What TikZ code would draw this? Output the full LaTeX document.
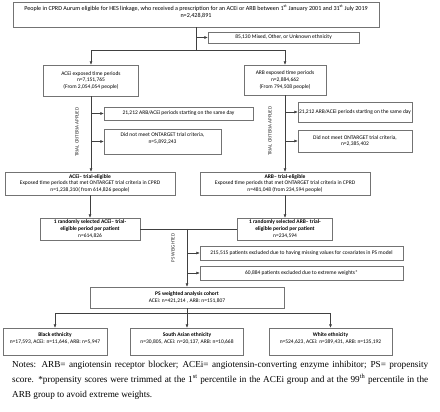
\documentclass[tikz,border=0pt]{standalone}
\usepackage{fontspec}
\setmainfont{Liberation Serif}
\newfontfamily\boxfont{Carlito}
\usetikzlibrary{positioning, calc, arrows.meta}
\tikzset{
	box/.style={draw=black!55, fill=white, align=center, inner sep=1pt, font=\boxfont\fontsize{5.5}{6.8}\selectfont},
	link/.style={draw=black!75, line width=0.5pt},
	arr/.style={link, -{Latex[length=3.5pt, width=3pt]}},
	side/.style={font=\boxfont\fontsize{5}{6}\selectfont, rotate=90, text=black!85},
}

\begin{document}
\begin{tikzpicture}[x=1pt, y=-1pt]
	\useasboundingbox (0,0) rectangle (440,412);
	
	% source population
	\node[box, minimum width=366pt, minimum height=25pt, font=\boxfont\fontsize{6.1}{7}\selectfont](people) at (196,14.5){People in CPRD Aurum eligible for HES linkage, who received a prescription for an ACEi or ARB between 1\textsuperscript{st} January 2001 and 31\textsuperscript{st} July 2019\\ n=2,428,891\\ \mbox{}};
	\node[box, minimum width=151pt, minimum height=11pt](ethnic) at (283.5,37.5){85,130 Mixed, Other, or Unknown ethnicity};
	
	% exposed periods
	\node[box, minimum width=95pt, minimum height=31pt](aceiexp) at (91,80.5){ACEi exposed time periods\\ n=7,151,765\\ (From 2,054,054 people)};
	\node[box, minimum width=82pt, minimum height=30pt](arbexp) at (285,80){ARB exposed time periods\\ n=2,884,662\\ (From 794,508 people)};
	
	% exclusions by trial criteria
	\node[box, minimum width=149pt, minimum height=13pt](aceisame) at (178.5,113.5){21,212 ARB/ACEi periods starting on the same day};
	\node[box, minimum width=117pt, minimum height=25pt](aceinotmet) at (162.5,141.5){Did not meet ONTARGET trial criteria,\\ n=5,892,243\\ \mbox{}};
	\node[box, minimum width=114pt, minimum height=20pt](arbsame) at (355,112){21,212 ARB/ACEi periods starting on the same day};
	\node[box, minimum width=114pt, minimum height=22pt](arbnotmet) at (355,141){Did not meet ONTARGET trial criteria,\\ n=2,385,402};
	\node[side](trialacei) at (77,132){TRIAL CRITERIA APPLIED};
	\node[side](trialarb) at (270,131){TRIAL CRITERIA APPLIED};
	
	% trial eligible
	\node[box, minimum width=170pt, minimum height=23pt](aceielig) at (90,183.5){\textbf{ACEi– trial-eligible}\\ Exposed time periods that met ONTARGET trial criteria in CPRD\\ n=1,238,310( from 614,826 people)};
	\node[box, minimum width=170pt, minimum height=23pt](arbelig) at (285,183.5){\textbf{ARB– trial-eligible}\\ Exposed time periods that met ONTARGET trial criteria in CPRD\\ n=481,048 (from 234,594 people)};
	\node[box, minimum width=100pt, minimum height=22pt](aceirand) at (90,229){\textbf{1 randomly selected ACEi– trial-}\\ \textbf{eligible period per patient}\\ n=614,826};
	\node[box, minimum width=95pt, minimum height=22pt](arbrand) at (285,229){\textbf{1 randomly selected ARB– trial-}\\ \textbf{eligible period per patient}\\ n=234,594};
	
	% weighting
	\node[side](psw) at (173,248){PS WEIGHTED};
	\node[box, minimum width=203pt, minimum height=14pt](missing) at (301.5,253){215,515 patients excluded due to having missing values for covariates in PS model};
	\node[box, minimum width=203pt, minimum height=14pt](extreme) at (301.5,273){60,884 patients excluded due to extreme weights*};
	\node[box, minimum width=194pt, minimum height=21pt](cohort) at (187,297.5){\textbf{PS weighted analysis cohort}\\ ACEi: n=421,214 , ARB: n=151,807};
	
	% ethnic groups
	\node[box, minimum width=104pt, minimum height=27pt](black) at (55,341.5){\textbf{Black ethnicity}\\ n=17,593, ACEi: n=11,646, ARB: n=5,947\\ \mbox{}};
	\node[box, minimum width=113pt, minimum height=27pt](southasian) at (187,341.5){\textbf{South Asian ethnicity}\\ n=30,805, ACEi: n=20,137, ARB: n=10,668\\ \mbox{}};
	\node[box, minimum width=123pt, minimum height=27pt](white) at (330.5,341.5){\textbf{White ethnicity}\\ n=524,623, ACEi: n=389,431, ARB: n=135,192\\ \mbox{}};
	
	\node[anchor=north west, text width=416pt, align=justify, inner sep=0pt, font=\fontsize{9.2}{15}\selectfont](notes) at (12,361){Notes: ARB= angiotensin receptor blocker; ACEi= angiotensin-converting enzyme inhibitor; PS= propensity\linebreak score. *propensity scores were trimmed at the 1\textsuperscript{st} percentile in the ACEi group and at the 99\textsuperscript{th} percentile in the\linebreak ARB group to avoid extreme weights.};
	
	% connectors
	\coordinate (split) at ($(people.south)+(0,23)$);
	\draw[link] (people.south) -- (split);
	\draw[arr] (ethnic.west -| people.south) -- (ethnic.west);
	\draw[arr] (split) -| (aceiexp.north);
	\draw[arr] (split) -| (arbexp.north);
	
	\draw[arr] (aceiexp.south) -- (aceiexp.south |- aceielig.north);
	\draw[arr] (aceisame.west -| aceiexp.south) -- (aceisame.west);
	\draw[arr] (aceinotmet.west -| aceiexp.south) -- (aceinotmet.west);
	\draw[arr] (arbexp.south) -- (arbexp.south |- arbelig.north);
	\draw[arr] (arbsame.west -| arbexp.south) -- (arbsame.west);
	\draw[arr] (arbnotmet.west -| arbexp.south) -- (arbnotmet.west);
	
	\draw[arr] (aceielig.south) -- (aceirand.north);
	\draw[arr] (arbelig.south) -- (arbrand.north);
	
	\coordinate (psjoin) at (cohort.north |- aceirand.east);
	\draw[link] (aceirand.east) -- (arbrand.west);
	\draw[arr] (psjoin) -- (cohort.north);
	\draw[arr] (missing.west -| cohort.north) -- (missing.west);
	\draw[arr] (extreme.west -| cohort.north) -- (extreme.west);
	
	\coordinate (fan) at ($(cohort.south)+(0,5)$);
	\draw[link] (cohort.south) -- (fan);
	\draw[arr] (fan) -| (black.north);
	\draw[arr] (fan) -- (southasian.north);
	\draw[arr] (fan) -| (white.north);
\end{tikzpicture}
\end{document}
